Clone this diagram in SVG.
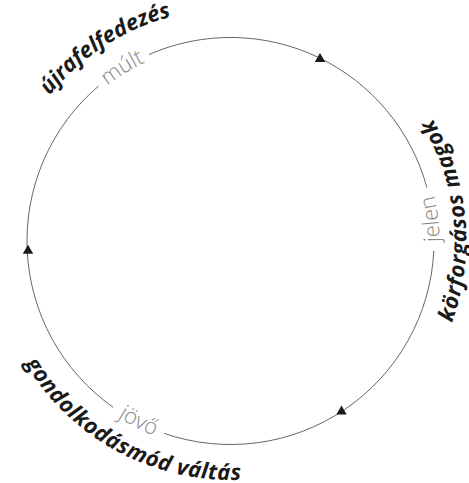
<svg xmlns="http://www.w3.org/2000/svg" xmlns:xlink="http://www.w3.org/1999/xlink" width="469" height="483" viewBox="0 0 469 483">
<style>
.arc{fill:none;stroke:#555;stroke-width:0.9}
.tri{fill:#1a1a1a}
.lbl{font-family:"Open Sans","Noto Sans","Liberation Sans",sans-serif;font-size:22px;font-weight:700;font-style:italic;fill:#1a1a1a}
.tm{font-family:"Open Sans","Noto Sans","Liberation Sans",sans-serif;font-size:22px;font-weight:300;fill:#888}
</style>
<defs>
<path id="tri" d="M0,-4.8 L5.2,4.2 L-5.2,4.2 Z"/>
<path id="pA" d="M16.9,331.6 A232,232 0 0 1 400.2,82.8" fill="none"/>
<path id="pB" d="M46.9,315.2 A198,198 0 0 1 377.6,108.5" fill="none"/>
<path id="pC" d="M288.8,441.7 A209,209 0 0 0 244.4,32.5" fill="none"/>
<path id="pD" d="M294.0,468.3 A236,236 0 0 0 248.6,5.7" fill="none"/>
<path id="pE" d="M3.6,166.0 A239,239 0 0 0 418.1,389.1" fill="none"/>
<path id="pF" d="M30.6,179.9 A209,209 0 0 0 397.4,366.8" fill="none"/>
</defs>
<rect width="469" height="483" fill="#fff"/>
<g id="connectors">
<path class="arc" d="M149.0,54.5 A203.5,203.5 0 0 1 426.9,187.6"/>
<path class="arc" d="M433.8,250.9 A203.5,203.5 0 0 1 164.2,433.4"/>
<path class="arc" d="M113.2,407.3 A203.5,203.5 0 0 1 98.6,86.0"/>
<use href="#tri" class="tri" x="320" y="57.8"/>
<use href="#tri" class="tri" x="341.5" y="410.3"/>
<use href="#tri" class="tri" x="28" y="249.5"/>
</g>
<g id="mult">
<text class="tm"><textPath href="#pB" startOffset="50%" text-anchor="middle">múlt</textPath></text>
</g>
<g id="ujrafelfedezes">
<text class="lbl" font-size="21"><textPath href="#pA" startOffset="50%" text-anchor="middle">újrafelfedezés</textPath></text>
</g>
<g id="jelen">
<text class="tm"><textPath href="#pC" startOffset="50%" text-anchor="middle">jelen</textPath></text>
</g>
<g id="korforgasos-magok">
<text class="lbl" font-size="23" letter-spacing="0.8"><textPath href="#pD" startOffset="50%" text-anchor="middle">körforgásos magok</textPath></text>
</g>
<g id="jovo">
<text class="tm"><textPath href="#pF" startOffset="50%" text-anchor="middle">jövő</textPath></text>
</g>
<g id="gondolkodasmod-valtas">
<text class="lbl" letter-spacing="0.5"><textPath href="#pE" startOffset="50%" text-anchor="middle">gondolkodásmód váltás</textPath></text>
</g>
</svg>
